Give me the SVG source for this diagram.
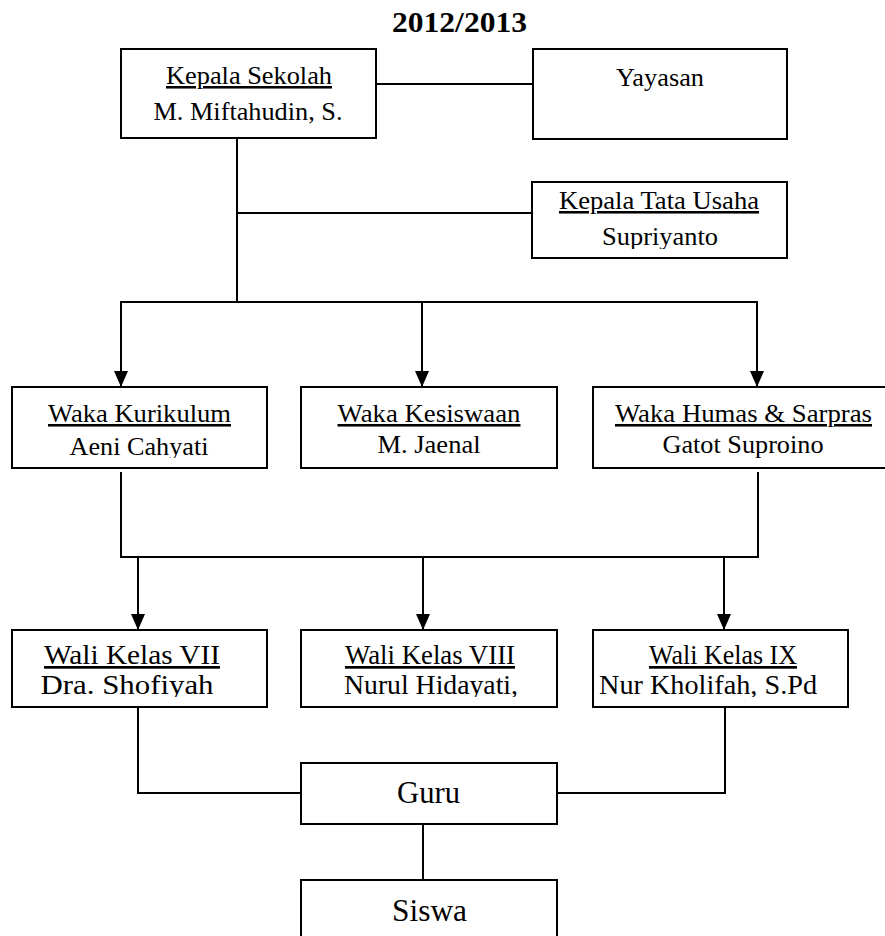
<svg xmlns="http://www.w3.org/2000/svg" width="885" height="936" viewBox="0 0 885 936">
<style>
.box{fill:#fff;stroke:#000;stroke-width:2}
.ln{fill:none;stroke:#000;stroke-width:2}
.t{font-family:"Liberation Serif","Times New Roman",serif;font-size:25.5px;fill:#000;text-anchor:middle}
.w{font-size:27px}
.u{text-decoration:underline}
.big{font-size:31px}
.title{font-family:"Liberation Serif","Times New Roman",serif;font-size:29px;font-weight:bold;text-anchor:middle;fill:#000}
</style>
<defs>
<marker id="arr" markerUnits="userSpaceOnUse" markerWidth="16" markerHeight="14" refX="16" refY="7" orient="auto">
<path d="M0,0 L16,7 L0,14 z" fill="#000"/>
</marker>
<clipPath id="cTU"><rect x="0" y="0" width="885" height="249"/></clipPath>
<clipPath id="cWaka"><rect x="0" y="0" width="885" height="458"/></clipPath>
<clipPath id="cWali"><rect x="0" y="0" width="885" height="697"/></clipPath>
</defs>
<rect width="885" height="936" fill="#fff"/>
<text class="title" x="459.5" y="32" textLength="135" lengthAdjust="spacingAndGlyphs">2012/2013</text>

<g id="connectors">
<line class="ln" x1="376" y1="84" x2="533" y2="84"/>
<line class="ln" x1="237" y1="138" x2="237" y2="302"/>
<line class="ln" x1="237" y1="213" x2="532" y2="213"/>
<line class="ln" x1="120" y1="302" x2="758" y2="302"/>
<line class="ln" x1="121" y1="302" x2="121" y2="387" marker-end="url(#arr)"/>
<line class="ln" x1="422" y1="302" x2="422" y2="387" marker-end="url(#arr)"/>
<line class="ln" x1="757" y1="302" x2="757" y2="387" marker-end="url(#arr)"/>
<polyline class="ln" points="121,472 121,557 758,557 758,472"/>
<line class="ln" x1="138" y1="557" x2="138" y2="630" marker-end="url(#arr)"/>
<line class="ln" x1="423" y1="557" x2="423" y2="630" marker-end="url(#arr)"/>
<line class="ln" x1="724" y1="557" x2="724" y2="630" marker-end="url(#arr)"/>
<polyline class="ln" points="138,707 138,793 301,793"/>
<polyline class="ln" points="725,707 725,793 557,793"/>
<line class="ln" x1="423" y1="824" x2="423" y2="880"/>
</g>

<g id="kepala-sekolah">
<rect class="box" x="121" y="49" width="255" height="89"/>
<text class="t u" x="249" y="84" textLength="166" lengthAdjust="spacingAndGlyphs">Kepala Sekolah</text>
<text class="t" x="248" y="120" textLength="189" lengthAdjust="spacingAndGlyphs">M. Miftahudin, S.</text>
</g>

<g id="yayasan">
<rect class="box" x="533" y="49" width="254" height="90"/>
<text class="t" x="660" y="86" textLength="88" lengthAdjust="spacingAndGlyphs">Yayasan</text>
</g>

<g id="kepala-tata-usaha">
<rect class="box" x="532" y="182" width="255" height="76"/>
<text class="t u" x="659" y="209" textLength="200" lengthAdjust="spacingAndGlyphs">Kepala Tata Usaha</text>
<text class="t" x="660" y="245" textLength="116" lengthAdjust="spacingAndGlyphs" clip-path="url(#cTU)">Supriyanto</text>
</g>

<g id="waka-kurikulum">
<rect class="box" x="12" y="387" width="255" height="81"/>
<text class="t u" x="139.5" y="422" textLength="183" lengthAdjust="spacingAndGlyphs">Waka Kurikulum</text>
<text class="t" x="139" y="455" textLength="139" lengthAdjust="spacingAndGlyphs" clip-path="url(#cWaka)">Aeni Cahyati</text>
</g>

<g id="waka-kesiswaan">
<rect class="box" x="301" y="387" width="256" height="81"/>
<text class="t u" x="429" y="422" textLength="183" lengthAdjust="spacingAndGlyphs">Waka Kesiswaan</text>
<text class="t" x="429" y="453" textLength="103" lengthAdjust="spacingAndGlyphs" clip-path="url(#cWaka)">M. Jaenal</text>
</g>

<g id="waka-humas">
<rect class="box" x="593" y="387" width="301" height="81"/>
<text class="t u" x="743.5" y="422" textLength="257" lengthAdjust="spacingAndGlyphs">Waka Humas &amp; Sarpras</text>
<text class="t" x="743" y="453" textLength="161" lengthAdjust="spacingAndGlyphs" clip-path="url(#cWaka)">Gatot Suproino</text>
</g>

<g id="wali-vii">
<rect class="box" x="12" y="630" width="255" height="77"/>
<text class="t w u" x="132" y="664" textLength="176" lengthAdjust="spacingAndGlyphs">Wali Kelas VII</text>
<text class="t w" x="127" y="694" textLength="173" lengthAdjust="spacingAndGlyphs" clip-path="url(#cWali)">Dra. Shofiyah</text>
</g>

<g id="wali-viii">
<rect class="box" x="301" y="630" width="256" height="77"/>
<text class="t w u" x="430" y="664" textLength="170" lengthAdjust="spacingAndGlyphs">Wali Kelas VIII</text>
<text class="t w" x="431" y="694" textLength="174" lengthAdjust="spacingAndGlyphs" clip-path="url(#cWali)">Nurul Hidayati,</text>
</g>

<g id="wali-ix">
<rect class="box" x="593" y="630" width="255" height="77"/>
<text class="t w u" x="723" y="664" textLength="148" lengthAdjust="spacingAndGlyphs">Wali Kelas IX</text>
<text class="t w" x="708" y="694" textLength="218" lengthAdjust="spacingAndGlyphs" clip-path="url(#cWali)">Nur Kholifah, S.Pd</text>
</g>

<g id="guru">
<rect class="box" x="301" y="763" width="256" height="61"/>
<text class="t big" x="428.5" y="803" textLength="63" lengthAdjust="spacingAndGlyphs">Guru</text>
</g>

<g id="siswa">
<rect class="box" x="301" y="880" width="256" height="70"/>
<text class="t big" x="429.5" y="921" textLength="75" lengthAdjust="spacingAndGlyphs">Siswa</text>
</g>
</svg>
